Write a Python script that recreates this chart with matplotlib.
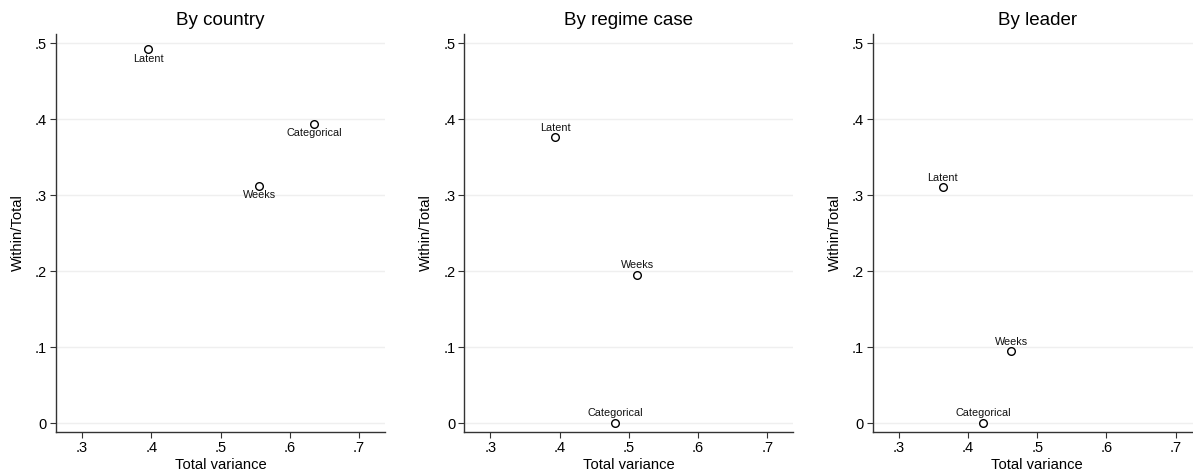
import matplotlib as mpl
import matplotlib.pyplot as plt

mpl.rcParams['font.family'] = ['Liberation Sans', 'DejaVu Sans']

titles = ['By country', 'By regime case', 'By leader']
names = ['Latent', 'Categorical', 'Weeks']

# total variance / within-to-total ratio, one list per panel
country_x = [0.396, 0.635, 0.556]
country_y = [0.4925, 0.394, 0.3124]
regime_x = [0.394, 0.480, 0.5124]
regime_y = [0.3758, 0.0, 0.1953]
leader_x = [0.3636, 0.4217, 0.4627]
leader_y = [0.310, 0.0, 0.0943]

panels = [(country_x, country_y, 'below'),
          (regime_x, regime_y, 'above'),
          (leader_x, leader_y, 'above')]

xticks = [0.3, 0.4, 0.5, 0.6, 0.7]
xtick_labels = ['.3', '.4', '.5', '.6', '.7']
yticks = [0, 0.1, 0.2, 0.3, 0.4, 0.5]
ytick_labels = ['0', '.1', '.2', '.3', '.4', '.5']

W, H = 1193, 476
dpi = 100
fig = plt.figure(figsize=(W / dpi, H / dpi), dpi=dpi)

lefts = [56, 464.3, 872.7]
ax_w = 329
top, bottom = 34, 431.7

for k in range(3):
    px, py, where = panels[k]
    ax = fig.add_axes([lefts[k] / W, 1 - bottom / H, ax_w / W, (bottom - top) / H])
    ax.set_xlim(0.2625, 0.7375)
    ax.set_ylim(-0.0114, 0.512)
    for yt in yticks:
        ax.axhline(yt, color='#efefef', lw=1, zorder=0)
    ax.plot(px, py, 'o', ms=5.5, mfc='white', mec='black', mew=1.0, zorder=3)
    off = -7 if where == 'below' else 7
    for i in range(len(names)):
        ax.annotate(names[i], (px[i], py[i]), xytext=(0, off), textcoords='offset points',
                    ha='center', va='center', fontsize=7.8, color='#111111')
    ax.set_xticks(xticks)
    ax.set_xticklabels(xtick_labels)
    ax.set_yticks(yticks)
    ax.set_yticklabels(ytick_labels)
    ax.tick_params(direction='out', length=4, width=0.8, color='#333333',
                   labelsize=10.5, pad=2.5)
    for s in ['top', 'right']:
        ax.spines[s].set_visible(False)
    for s in ['left', 'bottom']:
        ax.spines[s].set_color('#333333')
        ax.spines[s].set_linewidth(1.0)
    ax.set_title(titles[k], fontsize=13.5, pad=6.5)
    ax.set_xlabel('Total variance', fontsize=10.6)
    ax.set_ylabel('Within/Total', fontsize=10.6)
    ax.xaxis.set_label_coords(0.5, -0.066)
    ax.yaxis.set_label_coords(-0.094, 0.5)

fig.savefig('out.png', dpi=dpi)
